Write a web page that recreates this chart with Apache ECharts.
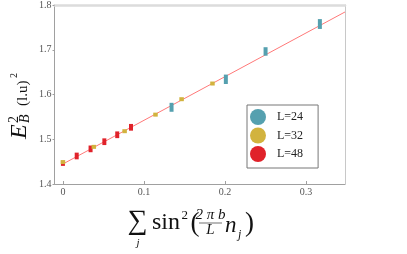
<!DOCTYPE html>
<html><head><meta charset="utf-8">
<script src="https://cdn.jsdelivr.net/npm/echarts@6/dist/echarts.min.js"></script>
<style>html,body{margin:0;padding:0;background:#fff}#c{width:407px;height:254px}</style>
</head><body><div id="c"></div>
<script>
// ---- data ----
var xL24 = [0.1340, 0.2010, 0.2500, 0.3170];
var yL24 = [1.5714, 1.6340, 1.6962, 1.7575];
var eL24 = [0.0100, 0.0105, 0.0095, 0.0110];

var xL32 = [0.0000, 0.0381, 0.0761, 0.1142, 0.1464, 0.1845];
var yL32 = [1.4490, 1.4830, 1.5180, 1.5550, 1.5895, 1.6245];
var eL32 = [0.0040, 0.0040, 0.0040, 0.0040, 0.0040, 0.0040];

var xL48 = [0.0000, 0.0170, 0.0341, 0.0511, 0.0670, 0.0840];
var yL48 = [1.4460, 1.4626, 1.4785, 1.4945, 1.5100, 1.5267];
var eL48 = [0.0055, 0.0075, 0.0075, 0.0075, 0.0075, 0.0075];

var fitX = [0.0, 0.348];
var fitY = [1.4447, 1.7844];

var xTicks = [0, 0.1, 0.2, 0.3];
var xTickLabels = ['0', '0.1', '0.2', '0.3'];
var yTicks = [1.4, 1.5, 1.6, 1.7, 1.8];

var seriesNames = ['L=24', 'L=32', 'L=48'];
var colors = ['#55a0af', '#d2b33e', '#e0222a'];

function zip3(a, b, c) { return a.map(function (v, i) { return [v, b[i], c[i]]; }); }

function renderErr(params, api) {
  var x = api.value(0), y = api.value(1), e = api.value(2);
  var t = api.coord([x, y + e]), b = api.coord([x, y - e]);
  var w = params.seriesIndex === 2 ? 4.5 : 4;
  var h = Math.max(b[1] - t[1], 4);
  var cy = (t[1] + b[1]) / 2;
  return { type: 'rect', shape: { x: t[0] - w / 2, y: cy - h / 2, width: w, height: h },
    style: { fill: api.visual('color') } };
}

var serif = '"Liberation Serif", "DejaVu Serif", serif';
var chart = echarts.init(document.getElementById('c'), null, { renderer: 'canvas' });

var errSeries = [[xL24, yL24, eL24], [xL32, yL32, eL32], [xL48, yL48, eL48]].map(function (d, i) {
  return { type: 'custom', name: seriesNames[i], renderItem: renderErr, data: zip3(d[0], d[1], d[2]),
    itemStyle: { color: colors[i] }, encode: { x: 0, y: 1 }, z: 3 + (i === 1 ? 1 : 0) };
});

var option = {
  animation: false,
  grid: { left: 54.5, right: 62, top: 5, bottom: 70 },
  xAxis: [{
    type: 'value', min: -0.0104, max: 0.348,
    axisLine: { show: true, onZero: false, lineStyle: { color: '#a0a0a0', width: 1 } },
    axisTick: { show: true, inside: true, length: 3, customValues: xTicks, lineStyle: { color: '#a0a0a0' } },
    axisLabel: { customValues: xTicks, formatter: function (v) { return xTickLabels[xTicks.indexOf(+v.toFixed(1))] || ''; },
      fontFamily: serif, fontSize: 10, color: '#555', margin: 3 },
    splitLine: { show: false }
  }, {
    type: 'value', position: 'top', min: -0.0104, max: 0.348,
    axisLine: { show: true, onZero: false, lineStyle: { color: '#dcdcdc', width: 2.5 } },
    axisTick: { show: false }, axisLabel: { show: false }, splitLine: { show: false }
  }],
  yAxis: [{
    type: 'value', min: 1.4, max: 1.8, interval: 0.1,
    axisLine: { show: true, onZero: false, lineStyle: { color: '#a0a0a0', width: 1 } },
    axisTick: { show: true, inside: false, length: 2, lineStyle: { color: '#a0a0a0' } },
    axisLabel: { formatter: function (v) { return v.toFixed(1); }, fontFamily: serif, fontSize: 10, color: '#555', margin: 3 },
    splitLine: { show: false }
  }, {
    type: 'value', position: 'right', min: 1.4, max: 1.8,
    axisLine: { show: true, onZero: false, lineStyle: { color: '#c8c8c8', width: 1 } },
    axisTick: { show: false }, axisLabel: { show: false }, splitLine: { show: false }
  }],
  legend: {
    orient: 'vertical', left: 247, top: 105,
    data: seriesNames.map(function (n) { return { name: n, icon: 'circle' }; }),
    itemWidth: 16, itemHeight: 16, itemGap: 2.5,
    padding: [4, 15, 6, 3],
    borderColor: '#777', borderWidth: 1,
    textStyle: { fontFamily: serif, fontSize: 12, color: '#222', padding: [0, 0, 0, 6] }
  },
  series: [{
    type: 'line', name: 'fit', data: fitX.map(function (v, i) { return [v, fitY[i]]; }),
    symbol: 'none', lineStyle: { color: '#ff7878', width: 1 }, z: 2, silent: true
  }].concat(errSeries),
  graphic: [
    { type: 'group', x: 0, y: 0, rotation: Math.PI / 2, children: [
      { type: 'text', x: -139, y: 20, style: { text: 'E', font: 'italic 24px ' + serif, fill: '#111', align: 'left', verticalAlign: 'middle' } },
      { type: 'text', x: -123, y: 14, style: { text: '2', font: '14px ' + serif, fill: '#111', align: 'left', verticalAlign: 'middle' } },
      { type: 'text', x: -123, y: 25, style: { text: 'B', font: 'italic 14px ' + serif, fill: '#111', align: 'left', verticalAlign: 'middle' } },
      { type: 'text', x: -106, y: 23, style: { text: '(l.u)', font: '15px ' + serif, fill: '#111', align: 'left', verticalAlign: 'middle' } },
      { type: 'text', x: -78, y: 14, style: { text: '2', font: '10px ' + serif, fill: '#111', align: 'left', verticalAlign: 'middle' } }
    ]},
    { type: 'text', x: 137.5, y: 221.5, style: { text: '\u2211', font: '28px ' + serif, fill: '#111', align: 'center', verticalAlign: 'middle' } },
    { type: 'text', x: 138, y: 243, style: { text: 'j', font: 'italic 11px ' + serif, fill: '#111', align: 'center', verticalAlign: 'middle' } },
    { type: 'text', x: 152, y: 223, style: { text: 'sin', font: '24px ' + serif, fill: '#111', align: 'left', verticalAlign: 'middle' } },
    { type: 'text', x: 181.5, y: 216, style: { text: '2', font: '13px ' + serif, fill: '#111', align: 'left', verticalAlign: 'middle' } },
    { type: 'text', x: 190.5, y: 224, style: { text: '(', font: '27px ' + serif, fill: '#111', align: 'left', verticalAlign: 'middle' } },
    { type: 'text', x: 210.5, y: 215, style: { text: '2 \u03c0 b', font: 'italic 15px ' + serif, fill: '#111', align: 'center', verticalAlign: 'middle' } },
    { type: 'line', shape: { x1: 199, y1: 223, x2: 222, y2: 223 }, style: { stroke: '#333', lineWidth: 0.7 } },
    { type: 'text', x: 210.5, y: 230, style: { text: 'L', font: 'italic 15px ' + serif, fill: '#111', align: 'center', verticalAlign: 'middle' } },
    { type: 'text', x: 225, y: 226, style: { text: 'n', font: 'italic 23px ' + serif, fill: '#111', align: 'left', verticalAlign: 'middle' } },
    { type: 'text', x: 238, y: 235, style: { text: 'j', font: 'italic 12px ' + serif, fill: '#111', align: 'left', verticalAlign: 'middle' } },
    { type: 'text', x: 245, y: 224, style: { text: ')', font: '27px ' + serif, fill: '#111', align: 'left', verticalAlign: 'middle' } }
  ]
};
chart.setOption(option);
</script></body></html>
